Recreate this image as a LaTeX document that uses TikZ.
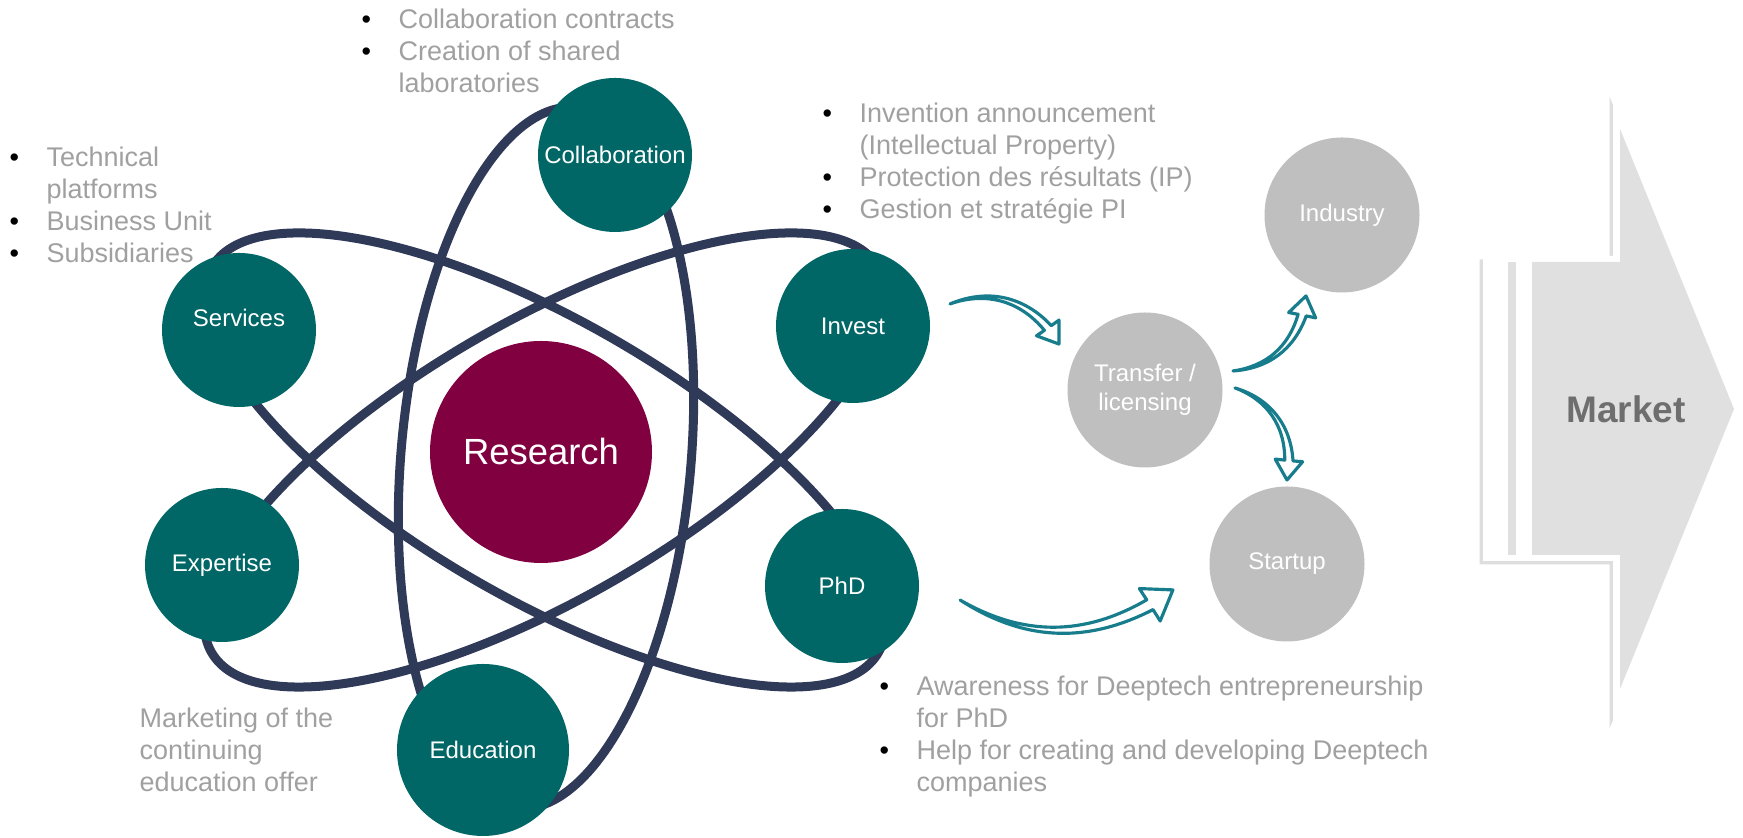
\documentclass[tikz,border=0pt]{standalone}
\usepackage{fontspec}
\setmainfont{Liberation Sans}
\usepackage{tikz}
\usetikzlibrary{calc}
\usetikzlibrary{shadows}
\definecolor{tealnode}{RGB}{0,102,102}
\definecolor{resred}{RGB}{128,0,64}
\definecolor{orbitblue}{RGB}{47,57,88}
\definecolor{lightnode}{RGB}{191,191,191}
\definecolor{arrowteal}{RGB}{23,125,140}
\definecolor{notegray}{RGB}{160,160,160}
\definecolor{marketfill}{RGB}{224,224,224}
\definecolor{markettext}{RGB}{110,110,110}

\newcommand{\itemdot}{\textcolor{black}{\textbullet}}
% tail, tip, bend, head size
\newcommand{\bentarrow}[4]{%
  \pgfmathsetmacro{\shaftL}{12-(#3)}%
  \pgfmathsetmacro{\shaftR}{-12-(#3)}%
  \pgfmathsetmacro{\barbL}{35-(#3)}%
  \pgfmathsetmacro{\barbR}{-35-(#3)}%
  \draw[flow] (#1) to[bend left=#3] ($(#2)!#4!\shaftL:(#1)$)
    -- ($(#2)!1.2*#4!\barbL:(#1)$) -- (#2)
    -- ($(#2)!1.2*#4!\barbR:(#1)$) -- ($(#2)!#4!\shaftR:(#1)$)
    to[bend right=#3] (#1) -- cycle;
}

\begin{document}
\begin{tikzpicture}
    \tikzstyle{hub}=[circle,fill=tealnode,text=white,minimum size=1.54cm,inner sep=0pt,font=\fontsize{6.83}{8}\selectfont]
    \tikzstyle{outlet}=[circle,fill=lightnode,text=white,minimum size=1.55cm,inner sep=0pt,align=center,font=\fontsize{6.83}{8.25}\selectfont]
    \tikzstyle{orbit}=[draw=orbitblue,line width=0.09cm]
    \tikzstyle{info}=[anchor=base west,inner sep=0pt,text=notegray,font=\fontsize{7.68}{9.1}\selectfont]
    \tikzstyle{flow}=[draw=arrowteal,fill=white,line width=0.9pt,line join=round]
    \useasboundingbox (0,0) rectangle (17.43,8.38);

    % orbitas
    \draw[orbit] (5.46,3.80) ellipse [x radius=1.45, y radius=3.52, rotate=-5];
    \draw[orbit] (5.45,3.78) ellipse [x radius=3.85, y radius=1.39, rotate=-30];
    \draw[orbit] (5.45,3.78) ellipse [x radius=3.85, y radius=1.39, rotate=30];

    \node[circle,fill=resred,text=white,minimum size=2.22cm,inner sep=0pt,font=\fontsize{10.36}{12}\selectfont] (research) at (5.41,3.86) {Research};
    \node[hub] (collab) at (6.15,6.83) {Collaboration};
    \node[hub] (services) at (2.39,5.08) {\raisebox{0.24cm}{Services}};
    \node[hub] (invest) at (8.53,5.12) {Invest};
    \node[hub] (expertise) at (2.22,2.73) {Expertise};
    \node[hub] (phd) at (8.42,2.52) {PhD};
    \node[hub,minimum size=1.72cm] (education) at (4.83,0.88) {Education};

    \node[outlet] (transfer) at (11.45,4.48) {Transfer /\\licensing};
    \node[outlet] (industry) at (13.42,6.23) {Industry};
    \node[outlet] (startup) at (12.87,2.74) {Startup};

    \coordinate (a1s) at ([shift={(12.8:0.995)}]invest.center);
    \coordinate (a1e) at ([shift={(151.9:0.975)}]transfer.center);
    \coordinate (a2s) at ([shift={(12.2:0.90)}]transfer.center);
    \coordinate (a2e) at ([shift={(-114:0.886)}]industry.center);
    \coordinate (a3s) at ([shift={(1.3:0.90)}]transfer.center);
    \coordinate (a3e) at ([shift={(90:0.84)}]startup.center);
    \coordinate (a4s) at ([shift={(-6.8:1.19)}]phd.center);
    \coordinate (a4e) at ([shift={(192.8:1.17)}]startup.center);
    \bentarrow{a1s}{a1e}{35}{0.2cm}
    \bentarrow{a2s}{a2e}{-33}{0.2cm}
    \bentarrow{a3s}{a3e}{35}{0.2cm}
    \bentarrow{a4s}{a4e}{-30}{0.28cm}

    \fill[white,drop shadow={shadow xshift=-0.035cm,shadow yshift=-0.035cm,fill=black,opacity=0.13}]
      (14.83,5.82) -- (16.13,5.82) -- (16.13,7.45) -- (17.42,4.29) -- (16.13,1.13) -- (16.13,2.77) -- (14.83,2.77) -- cycle;
    \fill[marketfill] (15.32,5.76) -- (16.20,5.76) -- (16.20,7.09) -- (17.34,4.29) -- (16.20,1.49) -- (16.20,2.83) -- (15.32,2.83) -- cycle;
    \fill[marketfill] (15.08,2.83) rectangle (15.16,5.76);
    \node[text=markettext,font=\bfseries\fontsize{10.53}{12}\selectfont] (market) at (16.26,4.29) {Market};

    \node[info] (collabnote) at (3.61,8.09) {\begin{tabular}[t]{@{}p{0.37cm}@{}l@{}}
      \itemdot & Collaboration contracts\\
      \itemdot & Creation of shared\\
               & laboratories
    \end{tabular}};
    \node[info] (servicenote) at (0.09,6.715) {\begin{tabular}[t]{@{}p{0.37cm}@{}l@{}}
      \itemdot & Technical\\
               & platforms\\
      \itemdot & Business Unit\\
      \itemdot & Subsidiaries
    \end{tabular}};
    \node[info] (investnote) at (8.22,7.155) {\begin{tabular}[t]{@{}p{0.37cm}@{}l@{}}
      \itemdot & Invention announcement\\
               & (Intellectual Property)\\
      \itemdot & Protection des résultats (IP)\\
      \itemdot & Gestion et stratégie PI
    \end{tabular}};
    \node[info] (educationnote) at (1.39,1.105) {\begin{tabular}[t]{@{}l@{}}
      Marketing of the\\
      continuing\\
      education offer
    \end{tabular}};
    \node[info] (phdnote) at (8.79,1.425) {\begin{tabular}[t]{@{}p{0.37cm}@{}l@{}}
      \itemdot & Awareness for Deeptech entrepreneurship\\
               & for PhD\\
      \itemdot & Help for creating and developing Deeptech\\
               & companies
    \end{tabular}};
\end{tikzpicture}
\end{document}
